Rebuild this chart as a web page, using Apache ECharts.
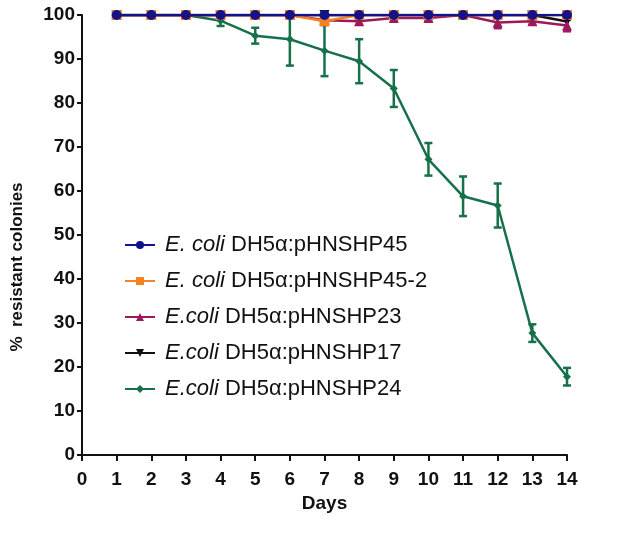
<!DOCTYPE html>
<html>
<head>
<meta charset="UTF-8">
<title>resistant colonies</title>
<style>
	* { margin: 0; padding: 0; }
	#main { width: 638px; height: 534px; background: #fff; }
</style>
<script src="https://cdn.jsdelivr.net/npm/echarts@6/dist/echarts.min.js"></script>
</head>
<body>
<div id="main"></div>
<script>
var days = [1, 2, 3, 4, 5, 6, 7, 8, 9, 10, 11, 12, 13, 14];
var names = ['E. coli DH5α:pHNSHP45', 'E. coli DH5α:pHNSHP45-2', 'E.coli DH5α:pHNSHP23', 'E.coli DH5α:pHNSHP17', 'E.coli DH5α:pHNSHP24'];
var p45 = [100, 100, 100, 100, 100, 100, 100, 100, 100, 100, 100, 100, 100, 100];
var p45_2 = [100, 100, 100, 100, 100, 100, 98.6, 100, 100, 100, 100, 100, 100, 100];
var p23 = [100, 100, 100, 100, 100, 100, 98.8, 98.6, 99.3, 99.3, 100, 98.3, 98.6, 97.6];
var p23err = [0, 0, 0, 0, 0, 0, 0.6, 0.8, 0.5, 0.6, 0, 1.3, 0.8, 1.3];
var p17 = [100, 100, 100, 100, 100, 100, 100, 100, 100, 100, 100, 100, 100, 98.5];
var p24 = [100, 100, 100, 98.7, 95.3, 94.5, 91.9, 89.5, 83.3, 67.2, 58.8, 56.7, 27.7, 17.8];
var p24err = [0, 0, 0, 1.2, 1.8, 6.0, 5.8, 5.0, 4.2, 3.7, 4.5, 5.0, 2.0, 2.0];

var font = 'Liberation Sans, Arial, sans-serif';

function pairs(v) {
	return days.map(function (d, i) { return [d, v[i]]; });
}
function errData(v, e) {
	var out = [];
	for (var i = 0; i < days.length; i++) {
		if (e[i] > 0) out.push([days[i], v[i] - e[i], v[i] + e[i]]);
	}
	return out;
}
function errSeries(v, e, color) {
	return {
		type: 'custom',
		name: 'err',
		data: errData(v, e),
		z: 2,
		renderItem: function (params, api) {
			var lo = api.coord([api.value(0), api.value(1)]);
			var hi = api.coord([api.value(0), api.value(2)]);
			var w = 4;
			var st = { stroke: color, lineWidth: 2.5 };
			return {
				type: 'group',
				children: [
					{ type: 'line', shape: { x1: lo[0], y1: lo[1], x2: hi[0], y2: hi[1] }, style: st },
					{ type: 'line', shape: { x1: lo[0] - w, y1: lo[1], x2: lo[0] + w, y2: lo[1] }, style: st },
					{ type: 'line', shape: { x1: hi[0] - w, y1: hi[1], x2: hi[0] + w, y2: hi[1] }, style: st }
				]
			};
		}
	};
}
function lineSeries(name, v, color, symbol, size, z, rot) {
	return {
		type: 'line',
		name: name,
		data: pairs(v),
		symbol: symbol,
		symbolSize: size,
		symbolRotate: rot || 0,
		showSymbol: true,
		z: z,
		itemStyle: { color: color },
		lineStyle: { color: color, width: 2.5 }
	};
}

var myChart = echarts.init(document.getElementById('main'));
var option = {
	backgroundColor: '#fff',
	animation: false,
	grid: { left: 82, right: 71, top: 15, bottom: 79 },
	graphic: [{
		type: 'text',
		x: 17,
		y: 267,
		rotation: Math.PI / 2,
		style: {
			text: '%  resistant colonies',
			font: 'bold 17px "Liberation Sans", Arial, sans-serif',
			fill: '#111',
			align: 'center',
			verticalAlign: 'middle'
		}
	}],
	legend: {
		data: names,
		orient: 'vertical',
		left: 119,
		top: 229,
		itemGap: 14,
		itemWidth: 30,
		itemHeight: 10,
		textStyle: {
			fontFamily: font,
			fontSize: 22,
			color: '#111',
			padding: [0, 0, 0, 5],
			rich: { i: { fontStyle: 'italic', fontSize: 22, fontFamily: font, color: '#111' } }
		},
		formatter: function (n) {
			return n.replace(/^(E\. ?coli)/, '{i|$1}');
		}
	},
	xAxis: {
		type: 'value',
		min: 0,
		max: 14,
		interval: 1,
		name: 'Days',
		nameLocation: 'middle',
		nameGap: 38,
		nameTextStyle: { fontFamily: font, fontWeight: 'bold', fontSize: 19, color: '#111' },
		splitLine: { show: false },
		axisLine: { lineStyle: { color: '#111', width: 2 } },
		axisTick: { show: true, length: 6, lineStyle: { color: '#111', width: 2 } },
		axisLabel: { fontFamily: font, fontWeight: 'bold', fontSize: 19, color: '#111', margin: 15 }
	},
	yAxis: {
		type: 'value',
		min: 0,
		max: 100,
		interval: 10,
		splitLine: { show: false },
		axisLine: { show: true, lineStyle: { color: '#111', width: 2 } },
		axisTick: { show: true, length: 5, lineStyle: { color: '#111', width: 2 } },
		axisLabel: { fontFamily: font, fontWeight: 'bold', fontSize: 19, color: '#111', margin: 7 }
	},
	series: [
		errSeries(p24, p24err, '#17704a'),
		lineSeries(names[4], p24, '#17704a', 'diamond', 8, 3),
		lineSeries(names[3], p17, '#111111', 'triangle', 10, 4, 180),
		errSeries(p23, p23err, '#9c1a5c'),
		lineSeries(names[2], p23, '#9c1a5c', 'triangle', 10, 5),
		lineSeries(names[1], p45_2, '#f58220', 'rect', 10, 6),
		lineSeries(names[0], p45, '#12128a', 'circle', 10, 7)
	]
};
myChart.setOption(option);
</script>
</body>
</html>
